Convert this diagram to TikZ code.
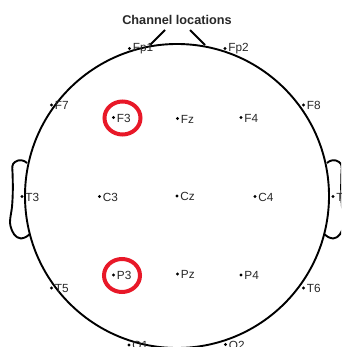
\documentclass[tikz,border=0pt]{standalone}
\usepackage{fontspec}
\setmainfont{Liberation Sans}
\usepackage{xcolor}
\usetikzlibrary{shapes.geometric}
\definecolor{myred}{RGB}{232,24,40}
\definecolor{mygray}{RGB}{40,40,40}

\begin{document}
\begin{tikzpicture}[x=1pt,y=-1pt,
        headline/.style={draw=black,line width=1.9pt},
        dotnode/.style={circle,fill=black,inner sep=0pt,minimum size=3.2pt},
        tagtext/.style={text=mygray,font=\fontsize{11.8}{12}\selectfont,inner sep=0pt,label distance=1.4pt,yshift=-0.6pt},
        marker/.style={ellipse,draw=myred,line width=4pt,inner sep=0pt,minimum width=36pt,minimum height=33pt}
      ]
      \useasboundingbox (0,0) rectangle (341,347);
      \clip (0,0) rectangle (341,347);

      % the head
      \node[headline,circle,inner sep=0pt,minimum size=304pt] (head) at (177,196) {};

      % the nose
      \coordinate (noseL) at (150,45);
      \coordinate (tipL) at (165,30);
      \coordinate (noseR) at (205,45);
      \coordinate (tipR) at (190,30);
      \draw[headline] (noseL) -- (tipL);
      \draw[headline] (noseR) -- (tipR);

      % the ears
      \draw[headline,line join=round] (27,163) .. controls (24,160) and (19,159) .. (15,162)
        .. controls (12,164) and (12,167) .. (12.5,172)
        .. controls (13,185) and (13,195) .. (12,207)
        .. controls (11,215) and (9,222) .. (10.5,226)
        .. controls (12,232) and (15,238) .. (21,238.5)
        .. controls (25,238) and (28,236) .. (30,234);
      \draw[headline,line join=round] (327,163) .. controls (330,160) and (335,159) .. (339,162)
        .. controls (342,164) and (342,167) .. (341.5,172)
        .. controls (341,185) and (341,195) .. (342,207)
        .. controls (343,215) and (345,222) .. (343.5,226)
        .. controls (342,232) and (339,238) .. (333,238.5)
        .. controls (329,238) and (326,236) .. (324,234);

      % the electrodes
      \foreach \name/\x/\y in {Fp1/129.5/48.5,Fp2/225/48.5,F7/51.5/105,F8/303.5/105,
          F3/113.5/117.5,Fz/177.5/118.5,F4/241/117.5,
          T3/22/196.5,C3/99.5/196.5,Cz/177/196,C4/255/196.5,T4/333/196.5,
          T5/51.5/288,T6/303.5/288,
          P3/113.5/275,Pz/177.5/274,P4/241/275,O1/129/345,O2/225.5/344.5}
        \node[dotnode,label={[tagtext]right:\name}] (\name) at (\x,\y) {};

      % the two marked channels
      \node[marker] (ringF3) at (122.5,118) {};
      \node[marker] (ringP3) at (122,275.5) {};

      \node[font=\bfseries\fontsize{12.7}{13}\selectfont,text=mygray,inner sep=0pt] (title) at (177,20) {Channel locations};
\end{tikzpicture}
\end{document}
